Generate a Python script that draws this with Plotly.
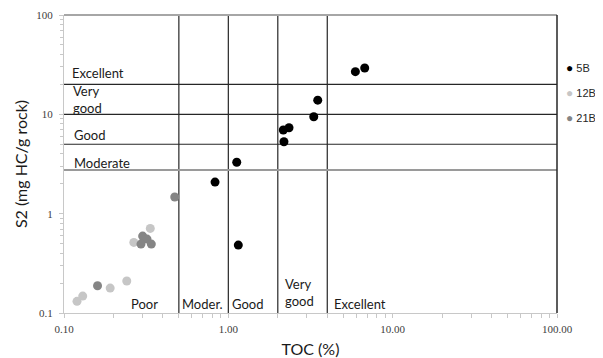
import plotly.graph_objects as go

# ---------------- data ----------------
series_names = ["5B", "12B", "21B"]
series_colors = ["#000000", "#c6c6c6", "#858585"]

toc_5B = [5.93, 6.76, 3.50, 3.31, 2.16, 2.34, 2.18, 1.125, 0.83, 1.15]
s2_5B = [26.9, 29.3, 13.9, 9.46, 6.95, 7.33, 5.30, 3.29, 2.08, 0.483]

toc_12B = [0.335, 0.266, 0.241, 0.191, 0.130, 0.120]
s2_12B = [0.711, 0.514, 0.210, 0.178, 0.148, 0.131]

toc_21B = [0.472, 0.301, 0.320, 0.294, 0.340, 0.160]
s2_21B = [1.47, 0.595, 0.555, 0.494, 0.494, 0.188]

# category boundaries
toc_limits = [0.5, 1.0, 2.0, 4.0]
s2_limits = [20, 10, 5]
s2_moderate_limit = 2.75

axis_min, axis_max = 0.1, 100

x_tickvals = [0.1, 1, 10, 100]
x_ticktext = ["0.10", "1.00", "10.00", "100.00"]
y_tickvals = [0.1, 1, 10, 100]
y_ticktext = ["0.1", "1", "10", "100"]
minor_vals = [m * 10 ** e for e in (-1, 0, 1) for m in range(2, 10)]

s2_labels = ["Excellent", "Very<br>good", "Good", "Moderate"]
toc_labels = ["Poor", "Moder.", "Good", "Very<br>good", "Excellent"]

# ---------------- figure ----------------
fig = go.Figure()

# vertical class boundaries (TOC)
for xv in toc_limits:
    fig.add_trace(go.Scatter(x=[xv, xv], y=[axis_min, axis_max], mode="lines",
                             line=dict(color="#262626", width=1.2),
                             showlegend=False, hoverinfo="skip"))
# horizontal class boundaries (S2)
for yv in s2_limits:
    fig.add_trace(go.Scatter(x=[axis_min, axis_max], y=[yv, yv], mode="lines",
                             line=dict(color="#262626", width=1.2),
                             showlegend=False, hoverinfo="skip"))
fig.add_trace(go.Scatter(x=[axis_min, axis_max], y=[s2_moderate_limit] * 2, mode="lines",
                         line=dict(color="#9a9a9a", width=2),
                         showlegend=False, hoverinfo="skip"))

for name, color, xs, ys in zip(series_names, series_colors,
                               [toc_5B, toc_12B, toc_21B], [s2_5B, s2_12B, s2_21B]):
    fig.add_trace(go.Scatter(x=xs, y=ys, mode="markers", name=name, showlegend=False,
                             marker=dict(color=color, size=9, line=dict(width=0))))

# compact legend (symbol + name) placed right of the plot
legend_y = [0.8211, 0.7372, 0.6554]
for name, color, ly in zip(series_names, series_colors, legend_y):
    fig.add_annotation(
        text=f'<span style="color:{color};font-size:12px">●</span> {name}',
        xref="paper", yref="paper", x=1.014, y=ly, xanchor="left", yanchor="middle",
        showarrow=False, align="left",
        font=dict(family="Liberation Sans", size=11, color="#262626"))

label_font = dict(family="Lato", size=13, color="#1a1a1a")

left_pos = [(0.012, 0.804), (0.014, 0.717), (0.016, 0.596), (0.016, 0.502)]
for txt, (px, py) in zip(s2_labels, left_pos):
    fig.add_annotation(text=txt, xref="paper", yref="paper", x=px, y=py,
                       xanchor="left", yanchor="middle", showarrow=False,
                       align="left", font=label_font)

bottom_pos = [(0.131, 0.030), (0.235, 0.030), (0.337, 0.030), (0.444, 0.069), (0.544, 0.030)]
for txt, (px, py) in zip(toc_labels, bottom_pos):
    fig.add_annotation(text=txt, xref="paper", yref="paper", x=px, y=py,
                       xanchor="left", yanchor="middle", showarrow=False,
                       align="left", font=label_font)

# frame: top (gray) and right (dark)
fig.add_shape(type="line", xref="paper", yref="paper", x0=0, x1=1, y0=1, y1=1,
              line=dict(color="#a6a6a6", width=2))
fig.add_shape(type="line", xref="paper", yref="paper", x0=1, x1=1, y0=0, y1=1,
              line=dict(color="#262626", width=1.5))

tick_font = dict(family="Liberation Serif", size=11, color="#404040")

fig.update_xaxes(type="log", range=[-1, 2], showgrid=False, zeroline=False, automargin=False,
                 showline=True, linecolor="#c8c8c8", linewidth=1,
                 tickmode="array", tickvals=x_tickvals, ticktext=x_ticktext,
                 ticks="outside", ticklen=4, tickcolor="#c8c8c8",
                 tickfont=tick_font, ticklabelstandoff=2,
                 minor=dict(tickmode="array", tickvals=minor_vals, ticks="outside",
                            ticklen=4, tickcolor="#c8c8c8", showgrid=False),
                 title=dict(text="TOC (%)", font=dict(family="Lato", size=16, color="#1a1a1a"),
                            standoff=10))
fig.update_yaxes(type="log", range=[-1, 2], showgrid=False, zeroline=False, automargin=False,
                 showline=True, linecolor="#c8c8c8", linewidth=1,
                 tickmode="array", tickvals=y_tickvals, ticktext=y_ticktext,
                 ticks="outside", ticklen=4, tickcolor="#c8c8c8",
                 tickfont=tick_font, ticklabelstandoff=4,
                 minor=dict(tickmode="array", tickvals=minor_vals, ticks="outside",
                            ticklen=3, tickcolor="#c8c8c8", showgrid=False),
                 title=dict(text="S2 (mg HC/g rock)", font=dict(family="Lato", size=16, color="#1a1a1a"),
                            standoff=4))

# the page places the figure 8 px from the top-left corner of the window
fig.update_layout(
    width=595, height=350,
    margin=dict(l=56, r=46, t=7, b=45, autoexpand=False),
    paper_bgcolor="white", plot_bgcolor="white",
    showlegend=False,
)

fig.write_html("out.html")
